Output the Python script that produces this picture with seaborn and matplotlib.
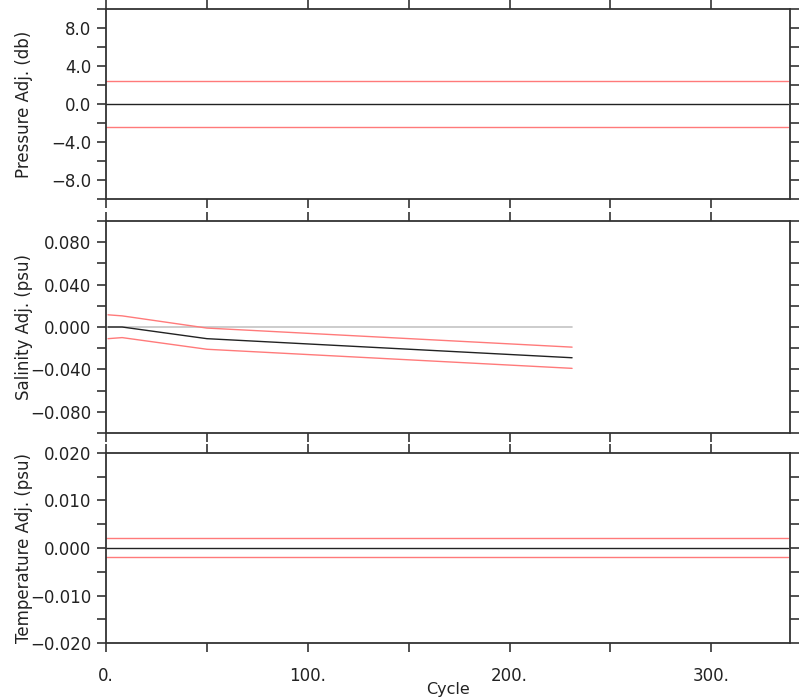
import numpy as np
import pandas as pd
import matplotlib
matplotlib.use('Agg')
import matplotlib.pyplot as plt
import seaborn as sns
from matplotlib.ticker import MultipleLocator, FuncFormatter

sns.set_style('ticks')
plt.rcParams['font.family'] = ['DejaVu Sans']

# Pressure adjustment (db)
pres_cycle = [0, 338]
pres_adj = [0.0, 0.0]
pres_err = [2.4, 2.4]

# Salinity adjustment (psu)
sal_cycle = [1, 8, 50, 231]
sal_adj = [0.0, 0.0, -0.011, -0.029]
sal_upper = [0.0115, 0.0105, -0.001, -0.019]
sal_lower = [-0.011, -0.010, -0.021, -0.039]
sal_zero_cycle = [1, 231]

# Temperature adjustment
temp_cycle = [0, 338]
temp_adj = [0.0, 0.0]
temp_err = [0.002, 0.002]

red = '#ff7a7a'
edge = '#333333'


def fmt(decimals):
    def f(v, pos):
        if abs(v) < 1e-9:
            v = 0.0
        return f'{v:.{decimals}f}'.replace('-', '\u2212')
    return FuncFormatter(f)


fig = plt.figure(figsize=(8, 7), dpi=100)
boxes = [
    [0.1325, 0.7157, 0.855, 0.2714],
    [0.1325, 0.3814, 0.855, 0.3029],
    [0.1325, 0.0814, 0.855, 0.2715],
]
axes = [fig.add_axes(b) for b in boxes]

# Pressure panel
ax = axes[0]
p = pd.DataFrame({'Cycle': pres_cycle, 'adj': pres_adj, 'err': pres_err})
sns.lineplot(x=p['Cycle'], y=p['adj'] + p['err'], ax=ax, color=red, lw=1)
sns.lineplot(x=p['Cycle'], y=p['adj'] - p['err'], ax=ax, color=red, lw=1)
sns.lineplot(x=p['Cycle'], y=p['adj'], ax=ax, color='#222222', lw=1)
ax.set_ylim(-10, 10)
ax.yaxis.set_major_locator(MultipleLocator(4))
ax.yaxis.set_minor_locator(MultipleLocator(2))
ax.yaxis.set_major_formatter(fmt(1))
ax.set_ylabel('Pressure Adj. (db)')

# Salinity panel
ax = axes[1]
s = pd.DataFrame({'Cycle': sal_cycle, 'adj': sal_adj, 'up': sal_upper, 'lo': sal_lower})
sns.lineplot(x=sal_zero_cycle, y=[0, 0], ax=ax, color='#c4c4c4', lw=1.2)
sns.lineplot(data=s, x='Cycle', y='up', ax=ax, color=red, lw=1)
sns.lineplot(data=s, x='Cycle', y='lo', ax=ax, color=red, lw=1)
sns.lineplot(data=s, x='Cycle', y='adj', ax=ax, color='#222222', lw=1)
ax.set_ylim(-0.1, 0.1)
ax.yaxis.set_major_locator(MultipleLocator(0.04))
ax.yaxis.set_minor_locator(MultipleLocator(0.02))
ax.yaxis.set_major_formatter(fmt(3))
ax.set_ylabel('Salinity Adj. (psu)')

# Temperature panel
ax = axes[2]
t = pd.DataFrame({'Cycle': temp_cycle, 'adj': temp_adj, 'err': temp_err})
sns.lineplot(x=t['Cycle'], y=t['adj'] + t['err'], ax=ax, color=red, lw=1)
sns.lineplot(x=t['Cycle'], y=t['adj'] - t['err'], ax=ax, color=red, lw=1)
sns.lineplot(x=t['Cycle'], y=t['adj'], ax=ax, color='#222222', lw=1)
ax.set_ylim(-0.02, 0.02)
ax.yaxis.set_major_locator(MultipleLocator(0.01))
ax.yaxis.set_minor_locator(MultipleLocator(0.005))
ax.yaxis.set_major_formatter(fmt(3))
ax.set_ylabel('Temperature Adj. (psu)')

for i, ax in enumerate(axes):
    ax.set_xlim(0, 339)
    ax.set_xlabel('')
    ax.xaxis.set_major_locator(MultipleLocator(100))
    ax.xaxis.set_minor_locator(MultipleLocator(50))
    ax.xaxis.set_major_formatter(FuncFormatter(lambda v, pos: f'{int(v)}.'))
    for sp in ax.spines.values():
        sp.set_visible(True)
        sp.set_color(edge)
        sp.set_linewidth(1.3)
    ax.tick_params(which='both', direction='out', length=6.5, width=1.2, color=edge,
                   top=True, right=True, bottom=True, left=True,
                   labelsize=12, labelcolor='#222222')
    ax.tick_params(axis='y', pad=4)
    ax.tick_params(axis='x', pad=11)
    if i < 2:
        ax.tick_params(axis='x', labelbottom=False)
    ax.yaxis.label.set_size(12)
    ax.yaxis.label.set_color('#222222')
    ax.yaxis.set_label_coords(-0.107, 0.5)

axes[2].set_xlabel('Cycle', fontsize=11.5, color='#222222')
axes[2].xaxis.set_label_coords(0.5, -0.205)

fig.savefig('out.png', dpi=100)
